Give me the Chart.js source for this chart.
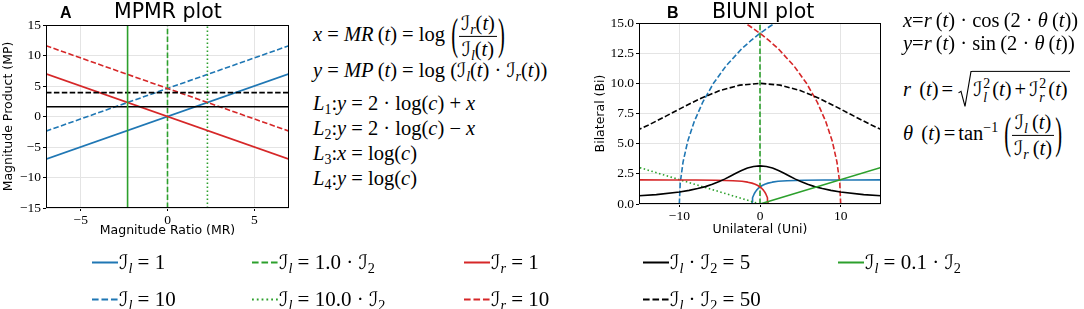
<!DOCTYPE html>
<html><head><meta charset="utf-8">
<script src="https://cdn.jsdelivr.net/npm/chart.js@4.4.1/dist/chart.umd.min.js"></script>
<style>
html,body{margin:0;padding:0;background:#fff;}
body{width:1084px;height:309px;position:relative;overflow:hidden;}
#wrapA{position:absolute;left:0;top:0;width:300px;height:240px;}
#wrapB{position:absolute;left:590px;top:0;width:305px;height:240px;}
.t{position:absolute;font-family:'DejaVu Sans',sans-serif;color:#000;white-space:nowrap;line-height:1;}
.pl{font-weight:bold;font-family:'Liberation Sans',sans-serif;font-size:16px;}
.m{position:absolute;font-family:'Liberation Serif','DejaVu Serif',serif;font-size:20.5px;color:#000;white-space:nowrap;line-height:1.1;transform:translateY(-50%);}
.m i{font-style:italic;}
.ci{font-family:'DejaVu Serif','DejaVu Sans',serif;font-style:normal;font-size:0.95em;}
sub,sup{font-size:0.68em;line-height:0;}
sub{vertical-align:-0.3em;}
sup{vertical-align:0.55em;}
.fr{display:inline-flex;flex-direction:column;vertical-align:middle;text-align:center;}
.fr>span{display:block;padding:0 2px;line-height:1.2;}
.fr>span:first-child{border-bottom:1px solid #000;}
.bp{display:inline-block;transform:scaleY(2.2);margin:0 1px;}
.ss{display:inline-flex;flex-direction:column;vertical-align:middle;font-size:0.68em;line-height:1;margin:0 2px 0 1px;}
.sq{display:inline-flex;vertical-align:middle;align-items:flex-start;margin-left:2px;}
.sq svg{display:block;}
.rc{border-top:1px solid #000;padding:5px 2px 6px 1px;display:inline-block;line-height:1.2;}
.op{margin:0 3px;}
#legend{position:absolute;left:0;top:0;width:1084px;height:309px;}
.li{position:absolute;display:flex;align-items:center;font-family:'Liberation Serif',serif;font-size:21px;white-space:nowrap;transform:translateY(-50%);}
.li i{font-style:italic;}
.li svg{margin-right:1px;}
</style></head>
<body>
<div id="wrapA"><canvas id="cA" width="300" height="240"></canvas></div>
<div id="wrapB"><canvas id="cB" width="305" height="240"></canvas></div>

<div class="t pl" style="left:60px;top:5px;">A</div>
<div class="t" style="left:114px;top:1px;font-size:20.5px;">MPMR plot</div>
<div class="t pl" style="left:667px;top:5px;">B</div>
<div class="t" style="left:712px;top:1px;font-size:20.5px;">BIUNI plot</div>

<div class="m" style="left:313px;top:36px;"><i>x</i> = <i>MR</i>&thinsp;(<i>t</i>) = log <span class="bp">(</span><span class="fr"><span><span class="ci">ℐ</span><sub><i>r</i></sub>(<i>t</i>)</span><span><span class="ci">ℐ</span><sub><i>l</i></sub>(<i>t</i>)</span></span><span class="bp">)</span></div>
<div class="m" style="left:313px;top:70px;"><i>y</i> = <i>MP</i>&thinsp;(<i>t</i>) = log (<span class="ci">ℐ</span><sub><i>l</i></sub>(<i>t</i>) · <span class="ci">ℐ</span><sub><i>r</i></sub>(<i>t</i>))</div>
<div class="m" style="left:313px;top:103px;"><i>L</i><sub>1</sub>:<i>y</i> = 2 · log(<i>c</i>) + <i>x</i></div>
<div class="m" style="left:313px;top:128px;"><i>L</i><sub>2</sub>:<i>y</i> = 2 · log(<i>c</i>) − <i>x</i></div>
<div class="m" style="left:313px;top:153px;"><i>L</i><sub>3</sub>:<i>x</i> = log(<i>c</i>)</div>
<div class="m" style="left:313px;top:178px;"><i>L</i><sub>4</sub>:<i>y</i> = log(<i>c</i>)</div>

<div class="m" style="left:903px;top:20px;"><i>x</i>=<i>r</i>&thinsp;(<i>t</i>) · cos&thinsp;(2 · <i>θ</i>&thinsp;(<i>t</i>))</div>
<div class="m" style="left:903px;top:43px;"><i>y</i>=<i>r</i>&thinsp;(<i>t</i>) · sin&thinsp;(2 · <i>θ</i>&thinsp;(<i>t</i>))</div>
<div class="m" style="left:903px;top:91px;"><i>r</i>&thinsp;&thinsp;(<i>t</i>)<span class="op">=</span><span class="sq"><svg width="14" height="37" viewBox="0 0 14 37"><polyline points="0.5,22 3,20.5 7,35.5 13,0.5 14,0.5" fill="none" stroke="#000" stroke-width="1.1"/></svg><span class="rc"><span class="ci">ℐ</span><span class="ss"><span>2</span><span><i>l</i></span></span>(<i>t</i>)<span class="op">+</span><span class="ci">ℐ</span><span class="ss"><span>2</span><span><i>r</i></span></span>(<i>t</i>)</span></span></div>
<div class="m" style="left:903px;top:135px;"><i>θ</i>&thinsp;&thinsp;(<i>t</i>)<span class="op">=</span>tan<sup>−1</sup> <span class="bp">(</span><span class="fr"><span><span class="ci">ℐ</span><sub><i>l</i></sub>&thinsp;(<i>t</i>)</span><span><span class="ci">ℐ</span><sub><i>r</i></sub>&thinsp;(<i>t</i>)</span></span><span class="bp">)</span></div>

<div id="legend"></div>

<script>
// ---------- series (legend order) ----------
const seriesNames = ['Il=1', 'Il=10', 'Il=1.0·I2', 'Il=10.0·I2', 'Ir=1', 'Ir=10', 'Il·I2=5', 'Il·I2=50', 'Il=0.1·I2'];

// ---------- panel A : MPMR plot ----------
const mrTicks = [-5, 0, 5];
const mpTicks = [-15, -10, -5, 0, 5, 10, 15];
const A_Il1    = [[-7, -7], [7, 7]];
const A_Il10   = [[-7, -2.4], [7, 11.6]];
const A_eq1    = [[0, -15], [0, 15]];
const A_eq10   = [[2.3, -15], [2.3, 15]];
const A_Ir1    = [[-7, 7], [7, -7]];
const A_Ir10   = [[-7, 11.6], [7, -2.4]];
const A_prod5  = [[-7, 1.61], [7, 1.61]];
const A_prod50 = [[-7, 3.91], [7, 3.91]];
const A_eq01   = [[-2.3, -15], [-2.3, 15]];

// ---------- panel B : BIUNI plot ----------
const uniTicks = [-10, 0, 10];
const biTicks = [0, 2.5, 5, 7.5, 10, 12.5, 15];
const B_Il1 = [[-1, 0], [-0.99, 0.17], [-0.95, 0.35], [-0.90, 0.52], [-0.82, 0.68], [-0.71, 0.85], [-0.58, 1.0], [-0.42, 1.15], [-0.23, 1.29], [0, 1.41], [0.27, 1.53], [0.60, 1.64], [1.0, 1.73], [1.52, 1.81], [2.24, 1.88], [3.35, 1.93], [5.41, 1.97], [7.96, 1.985], [11.3, 1.99], [16.3, 2.0]];
const B_Il10 = [[-10, 0], [-9.89, 1.74], [-9.54, 3.47], [-8.97, 5.18], [-8.15, 6.84], [-7.09, 8.45], [-5.77, 10.0], [-4.18, 11.47], [-2.27, 12.86], [-1.18, 13.51], [0, 14.14], [1.29, 14.75], [2.70, 15.32]];
const B_eq1 = [[0, 0], [0, 15]];
const B_eq10 = [[0, 0], [-15, 3.03]];
const B_Ir1 = [[1, 0], [0.99, 0.17], [0.95, 0.35], [0.90, 0.52], [0.82, 0.68], [0.71, 0.85], [0.58, 1.0], [0.42, 1.15], [0.23, 1.29], [0, 1.41], [-0.27, 1.53], [-0.60, 1.64], [-1.0, 1.73], [-1.52, 1.81], [-2.24, 1.88], [-3.35, 1.93], [-5.41, 1.97], [-7.96, 1.985], [-11.3, 1.99], [-16.3, 2.0]];
const B_Ir10 = [[10, 0], [9.89, 1.74], [9.54, 3.47], [8.97, 5.18], [8.15, 6.84], [7.09, 8.45], [5.77, 10.0], [4.18, 11.47], [2.27, 12.86], [1.18, 13.51], [0, 14.14], [-1.29, 14.75], [-2.70, 15.32]];
const B_prod5 = [[-16.5, 0.61], [-12.85, 0.78], [-9.98, 1.0], [-8.79, 1.13], [-7.73, 1.28], [-6.77, 1.44], [-5.91, 1.63], [-5.13, 1.84], [-4.39, 2.06], [-3.69, 2.30], [-2.99, 2.55], [-2.29, 2.78], [-1.55, 2.98], [-0.79, 3.11], [0, 3.16], [0.79, 3.11], [1.55, 2.98], [2.29, 2.78], [2.99, 2.55], [3.69, 2.30], [4.39, 2.06], [5.13, 1.84], [5.91, 1.63], [6.77, 1.44], [7.73, 1.28], [8.79, 1.13], [9.98, 1.0], [12.85, 0.78], [16.5, 0.61]];
const B_prod50 = [[-16.2, 5.81], [-13.88, 6.52], [-11.66, 7.28], [-9.46, 8.05], [-7.23, 8.79], [-4.91, 9.42], [-2.49, 9.85], [0, 10.0], [2.49, 9.85], [4.91, 9.42], [7.23, 8.79], [9.46, 8.05], [11.66, 7.28], [13.88, 6.52], [16.2, 5.81]];
const B_eq01 = [[0, 0], [15, 3.03]];

// ---------- styles ----------
const DASHED = [5.5, 2.4], DOTTED = [1.5, 2.5];
const seriesStyle = [
  {color: '#1f77b4', dash: []},
  {color: '#1f77b4', dash: DASHED},
  {color: '#2ca02c', dash: DASHED},
  {color: '#2ca02c', dash: DOTTED},
  {color: '#d62728', dash: []},
  {color: '#d62728', dash: DASHED},
  {color: '#000000', dash: []},
  {color: '#000000', dash: DASHED},
  {color: '#2ca02c', dash: []}
];
const LW = 1.6;

Chart.defaults.font.family = "'DejaVu Sans', sans-serif";

function toPts(arr) { return arr.map(p => ({x: p[0], y: p[1]})); }
function makeDatasets(list) {
  return list.map((arr, i) => ({
    label: seriesNames[i],
    data: toPts(arr),
    showLine: true,
    borderColor: seriesStyle[i].color,
    borderDash: seriesStyle[i].dash,
    borderWidth: LW,
    pointRadius: 0,
    fill: false,
    tension: 0,
    borderJoinStyle: 'round',
    order: list.length - i
  }));
}

const boxPlugin = {
  id: 'box',
  afterDraw(chart) {
    const {ctx, chartArea: a} = chart;
    ctx.save();
    ctx.strokeStyle = '#000';
    ctx.lineWidth = 1;
    ctx.strokeRect(Math.round(a.left) + 0.5, Math.round(a.top) + 0.5, Math.round(a.right - a.left) - 1, Math.round(a.bottom - a.top) - 1);
    ctx.restore();
  }
};

const minus = v => (v < 0 ? '\u2212' : '') + Math.abs(v);
const oneDec = v => Number(v).toFixed(1);

function axis(o) {
  return {
    type: 'linear', position: o.pos, min: o.min, max: o.max,
    afterBuildTicks: s => { s.ticks = o.ticks.map(v => ({value: v})); },
    afterFit: s => { if (o.pos === 'bottom') s.height = o.size; else s.width = o.size; },
    grid: {color: '#e4e4e4', lineWidth: 1, tickColor: '#000', tickLength: 3, drawTicks: true},
    border: {display: false},
    ticks: {color: '#000', font: {family: "'Liberation Serif', serif", size: 13.5}, padding: o.tickPad, callback: o.fmt, maxRotation: 0, autoSkip: false},
    title: {display: true, text: o.title, color: '#000', font: {family: "'DejaVu Sans', sans-serif", size: 12.5}, padding: o.titlePad}
  };
}

function makeChart(id, datasets, xs, ys, pad) {
  return new Chart(document.getElementById(id), {
    type: 'scatter',
    data: {datasets},
    options: {
      responsive: false, animation: false, devicePixelRatio: 1,
      layout: {padding: pad},
      plugins: {legend: {display: false}, tooltip: {enabled: false}},
      scales: {x: xs, y: ys}
    },
    plugins: [boxPlugin]
  });
}

makeChart('cA',
  makeDatasets([A_Il1, A_Il10, A_eq1, A_eq10, A_Ir1, A_Ir10, A_prod5, A_prod50, A_eq01]),
  axis({pos: 'bottom', min: -7, max: 7, ticks: mrTicks, fmt: minus, size: 32, tickPad: 1, title: 'Magnitude Ratio (MR)', titlePad: {top: 0, bottom: 1.5}}),
  axis({pos: 'left', min: -15, max: 15, ticks: mpTicks, fmt: minus, size: 46, tickPad: 2, title: 'Magnitude Product (MP)', titlePad: {top: 1.5, bottom: 0}}),
  {left: 0, right: 11, top: 25, bottom: 0});

makeChart('cB',
  makeDatasets([B_Il1, B_Il10, B_eq1, B_eq10, B_Ir1, B_Ir10, B_prod5, B_prod50, B_eq01]),
  axis({pos: 'bottom', min: -15, max: 15, ticks: uniTicks, fmt: minus, size: 36, tickPad: 1, title: 'Unilateral (Uni)', titlePad: {top: 0, bottom: 2.5}}),
  axis({pos: 'left', min: 0, max: 15, ticks: biTicks, fmt: oneDec, size: 49, tickPad: 2, title: 'Bilateral (Bi)', titlePad: {top: 3.5, bottom: 0}}),
  {left: 0, right: 14, top: 23, bottom: 0});

// ---------- legend ----------
function mathLabel(s) {
  return s.replace('=', ' = ').replace('·', ' · ')
          .replace(/I([lr2])/g, (m, c) => '<span class="ci">ℐ</span><sub>' + (c === '2' ? c : '<i>' + c + '</i>') + '</sub>');
}
const legendColX = [92, 252, 464, 643, 838];
const legendRowY = [262, 299];
const leg = document.getElementById('legend');
seriesNames.forEach((name, i) => {
  const st = seriesStyle[i];
  const d = document.createElement('div');
  d.className = 'li';
  d.style.left = legendColX[Math.floor(i / 2)] + 'px';
  d.style.top = legendRowY[i % 2] + 'px';
  d.innerHTML = '<svg width="26" height="8"><line x1="0" y1="4" x2="26" y2="4" stroke="' + st.color + '" stroke-width="2" stroke-dasharray="' + (st.dash.length ? st.dash.map(v => v * 1.2).join(',') : 'none') + '"/></svg><span>' + mathLabel(name) + '</span>';
  leg.appendChild(d);
});
</script>
</body></html>
